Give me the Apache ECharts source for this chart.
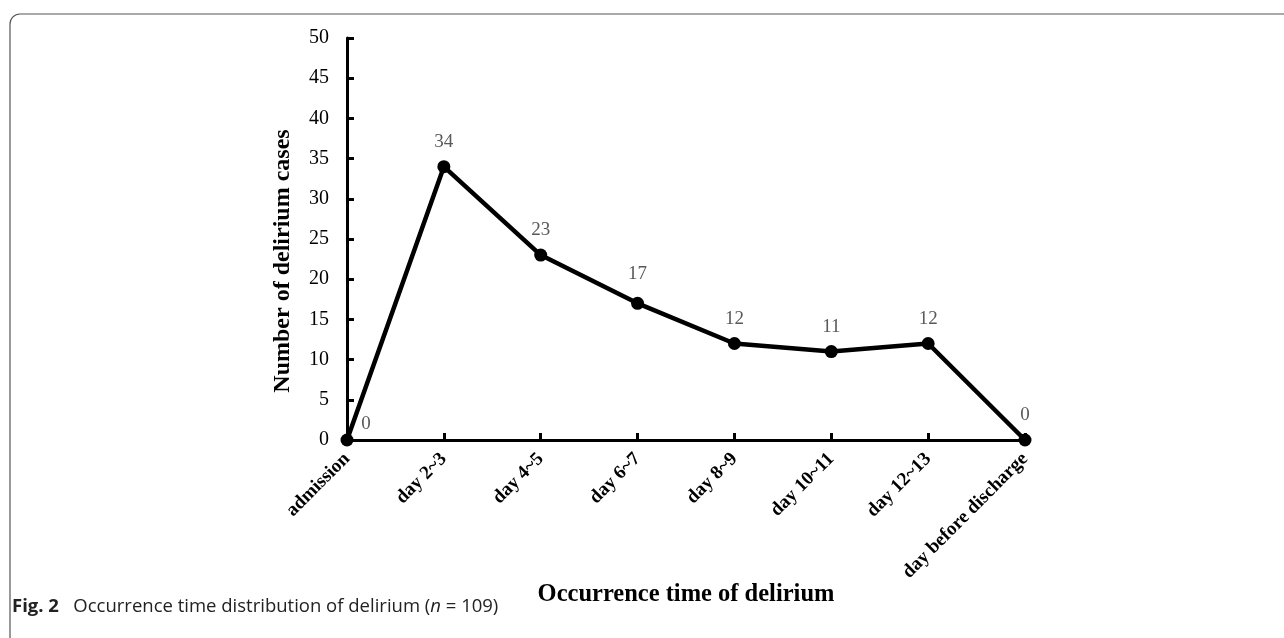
<!DOCTYPE html>
<html>
<head>
<meta charset="utf-8">
<script src="https://cdn.jsdelivr.net/npm/echarts@6/dist/echarts.min.js"></script>
<style>
  html, body { margin: 0; padding: 0; background: #fff; }
  #main { width: 1284px; height: 638px; }
</style>
</head>
<body>
<div id="main"></div>
<script>
var categories = ['admission', 'day 2~3', 'day 4~5', 'day 6~7', 'day 8~9', 'day 10~11', 'day 12~13', 'day before discharge'];
var cases = [0, 34, 23, 17, 12, 11, 12, 0];
var yTicks = [0, 5, 10, 15, 20, 25, 30, 35, 40, 45, 50];

var chart = echarts.init(document.getElementById('main'));

// first label sits to the right of the point, like the original
var labelOffsets = [[19, 9], [0, 0], [0, 0], [0, -4], [0, 0], [0, 0], [0, 0], [0, 0]];

var seriesData = cases.map(function (v, i) {
    return {
        value: v,
        label: { offset: labelOffsets[i] }
    };
});

var serif = '"Liberation Serif", "Times New Roman", serif';

option = {
    animation: false,
    backgroundColor: '#fff',
    grid: {
        left: 347,
        right: 259,
        top: 38,
        bottom: 198
    },
    xAxis: {
        type: 'category',
        data: categories,
        boundaryGap: false,
        name: 'Occurrence time of delirium',
        nameLocation: 'middle',
        nameGap: 142,
        nameMoveOverlap: false,
        nameTextStyle: { fontFamily: serif, fontWeight: 'bold', fontSize: 24.5, color: '#000' },
        axisLine: { lineStyle: { color: '#000', width: 3 } },
        axisTick: { inside: true, length: 7, lineStyle: { color: '#000', width: 3 }, alignWithLabel: true },
        axisLabel: {
            rotate: 45,
            interval: 0,
            margin: 16,
            fontFamily: serif,
            fontWeight: 'bold',
            fontSize: 19,
            color: '#000'
        },
        splitLine: { show: false }
    },
    yAxis: {
        type: 'value',
        min: yTicks[0],
        max: yTicks[yTicks.length - 1],
        interval: 5,
        name: 'Number of delirium cases',
        nameLocation: 'middle',
        nameGap: 52,
        nameTextStyle: { fontFamily: serif, fontWeight: 'bold', fontSize: 24, color: '#000', padding: [0, 44, 0, 0] },
        axisLine: { show: true, lineStyle: { color: '#000', width: 3 } },
        axisTick: { show: true, inside: true, length: 7, lineStyle: { color: '#000', width: 3 } },
        axisLabel: { fontFamily: serif, fontSize: 20, color: '#000', margin: 18 },
        splitLine: { show: false }
    },
    series: [{
        type: 'line',
        data: seriesData,
        symbol: 'circle',
        symbolSize: 13,
        itemStyle: { color: '#000' },
        lineStyle: { color: '#000', width: 4.5 },
        label: {
            show: true,
            position: 'top',
            distance: 9,
            fontFamily: serif,
            fontSize: 19,
            color: '#595959'
        }
    }],
    graphic: [
        {
            type: 'rect',
            shape: { x: 10, y: 14, width: 1300, height: 660, r: [10, 0, 0, 0] },
            style: { fill: 'none', stroke: '#555', lineWidth: 1.2 },
            silent: true
        },
        {
            type: 'text',
            left: 12,
            top: 597,
            style: {
                text: '{b|Fig. 2}   Occurrence time distribution of delirium ({i|n} = 109)',
                font: '18.5px "Open Sans", "Noto Sans", sans-serif',
                fill: '#222',
                rich: {
                    b: { fontWeight: 'bold', fontSize: 18.5, fontFamily: '"Open Sans", sans-serif', fill: '#222' },
                    i: { fontStyle: 'italic', fontSize: 18.5, fontFamily: '"Open Sans", sans-serif', fill: '#222' }
                }
            }
        }
    ]
};

chart.setOption(option);
</script>
</body>
</html>
